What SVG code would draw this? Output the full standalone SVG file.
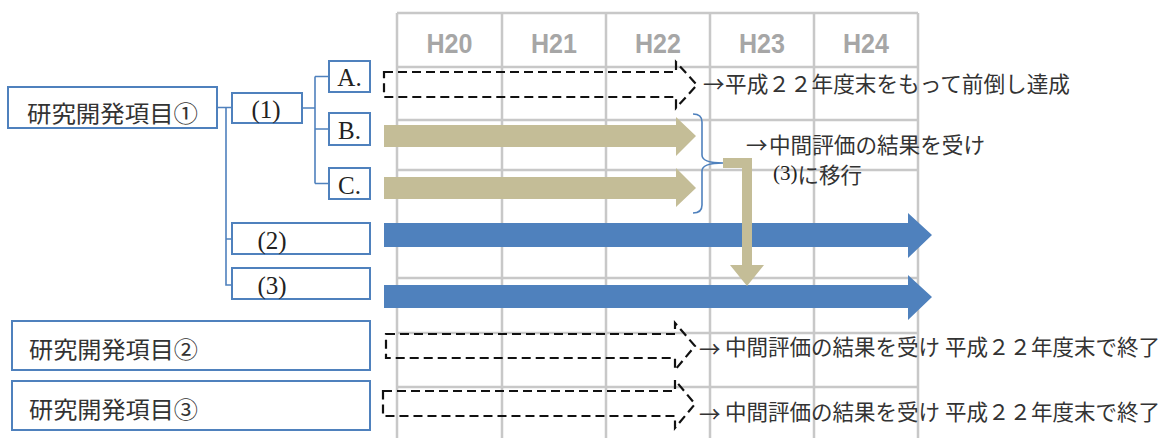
<svg xmlns="http://www.w3.org/2000/svg" width="1168" height="438" viewBox="0 0 1168 438">
<style>
.grid{stroke:#c8c8c8;stroke-width:2.5;fill:none}
.hdr{font-family:"Liberation Sans",Arial,sans-serif;font-weight:bold;font-size:28px;fill:#a6a6a6;text-anchor:middle}
.box{fill:#fff;stroke:#4f81bd;stroke-width:2}
.conn{fill:none;stroke:#4f81bd;stroke-width:1.6}
.lat{font-family:"Liberation Serif","Times New Roman",serif;font-size:25px;fill:#222;dominant-baseline:central}
.jp{font-family:"Noto Sans CJK JP","Noto Sans",sans-serif;font-size:21.5px;fill:#333;dominant-baseline:central}
.jpb{font-family:"Noto Sans CJK JP","Noto Sans",sans-serif;font-size:23px;fill:#333;dominant-baseline:central}
.dash{fill:none;stroke:#111;stroke-width:2.2;stroke-dasharray:9 5}
.khaki{fill:#c4bd97}
.blue{fill:#4f81bd}
</style>
<g id="grid">
<path class="grid" d="M397,13V438M502,13V438M606,13V438M710,13V438M814,13V438M918,13V438"/>
<path class="grid" d="M397,13H918M397,67H918M397,120H918M397,170H918M397,278H918M397,333H918M397,387H918"/>
<text class="hdr" x="449.5" y="53" textLength="46" lengthAdjust="spacingAndGlyphs">H20</text>
<text class="hdr" x="554" y="53" textLength="46" lengthAdjust="spacingAndGlyphs">H21</text>
<text class="hdr" x="658" y="53" textLength="46" lengthAdjust="spacingAndGlyphs">H22</text>
<text class="hdr" x="762" y="53" textLength="46" lengthAdjust="spacingAndGlyphs">H23</text>
<text class="hdr" x="866" y="53" textLength="46" lengthAdjust="spacingAndGlyphs">H24</text>
</g>
<g id="connectors">
<path class="conn" d="M217,107.5H232M226,107.5V285H232M226,239H232"/>
<path class="conn" d="M302,108H315M315,76.5V183.5M315,76.5H329M315,129H329M315,183.5H329"/>
<path class="conn" d="M693,114Q702,114 702,122V155Q702,163 723,163Q702,163 702,171V205Q702,213 693,213"/>
</g>
<g id="bars">
<polygon id="barA" class="dash" points="384,72 676,72 676,62 697,85 676,108 676,97 384,97"/>
<polygon id="barB" class="khaki" points="384,125 676,125 676,117 696,136 676,156 676,147 384,147"/>
<polygon id="barC" class="khaki" points="384,177 676,177 676,168 696,188 676,207 676,199 384,199"/>
<polygon id="bar2" class="blue" points="384,223 908,223 908,213 932,235 908,258 908,247 384,247"/>
<polygon id="bar3" class="blue" points="384,285 908,285 908,275 932,297 908,320 908,308 384,308"/>
<polygon id="bendArrow" class="khaki" points="723,158 752,158 752,265 764,265 747,286 730,265 742,265 742,168 723,168"/>
<polygon id="barP2" class="dash" points="386,334 675,334 675,323 695,346 675,370 675,358 386,358"/>
<polygon id="barP3" class="dash" points="383,391 675,391 675,380 695,404 675,428 675,416 383,416"/>
</g>
<g id="node-item1">
<rect class="box" x="8" y="87" width="209" height="41"/>
<text class="jpb" x="27" y="112" textLength="171" lengthAdjust="spacingAndGlyphs">研究開発項目①</text>
</g>
<g id="node-p1">
<rect class="box" x="232" y="93" width="70" height="30"/>
<text class="lat" x="266" y="109" text-anchor="middle">(1)</text>
</g>
<g id="node-A">
<rect class="box" x="329" y="61" width="41" height="31"/>
<text class="lat" x="349.5" y="77" text-anchor="middle">A.</text>
</g>
<g id="node-B">
<rect class="box" x="329" y="113" width="41" height="32"/>
<text class="lat" x="349.5" y="130" text-anchor="middle">B.</text>
</g>
<g id="node-C">
<rect class="box" x="329" y="168" width="41" height="31"/>
<text class="lat" x="349.5" y="185" text-anchor="middle">C.</text>
</g>
<g id="node-p2">
<rect class="box" x="232" y="223" width="138" height="31"/>
<text class="lat" x="272" y="240" text-anchor="middle">(2)</text>
</g>
<g id="node-p3">
<rect class="box" x="232" y="268" width="138" height="31"/>
<text class="lat" x="272" y="285" text-anchor="middle">(3)</text>
</g>
<g id="node-item2">
<rect class="box" x="12" y="321" width="358" height="49"/>
<text class="jpb" x="29" y="348" textLength="169" lengthAdjust="spacingAndGlyphs">研究開発項目②</text>
</g>
<g id="node-item3">
<rect class="box" x="12" y="381" width="358" height="49"/>
<text class="jpb" x="29" y="408" textLength="169" lengthAdjust="spacingAndGlyphs">研究開発項目③</text>
</g>
<g id="notes">
<text class="jp" x="703" y="82">→</text>
<text class="jp" x="725" y="82" textLength="345" lengthAdjust="spacingAndGlyphs">平成２２年度末をもって前倒し達成</text>
<text class="jp" x="746" y="143">→</text>
<text class="jp" x="769" y="143" textLength="216" lengthAdjust="spacingAndGlyphs">中間評価の結果を受け</text>
<text class="jp" x="773" y="173"><tspan font-family="Liberation Serif, serif" font-size="21px" fill="#222">(3)</tspan>に移行</text>
<text class="jp" x="699" y="347">→</text>
<text class="jp" x="725" y="345" textLength="435" lengthAdjust="spacingAndGlyphs">中間評価の結果を受け 平成２２年度末で終了</text>
<text class="jp" x="699" y="412">→</text>
<text class="jp" x="725" y="410" textLength="435" lengthAdjust="spacingAndGlyphs">中間評価の結果を受け 平成２２年度末で終了</text>
</g>
</svg>
